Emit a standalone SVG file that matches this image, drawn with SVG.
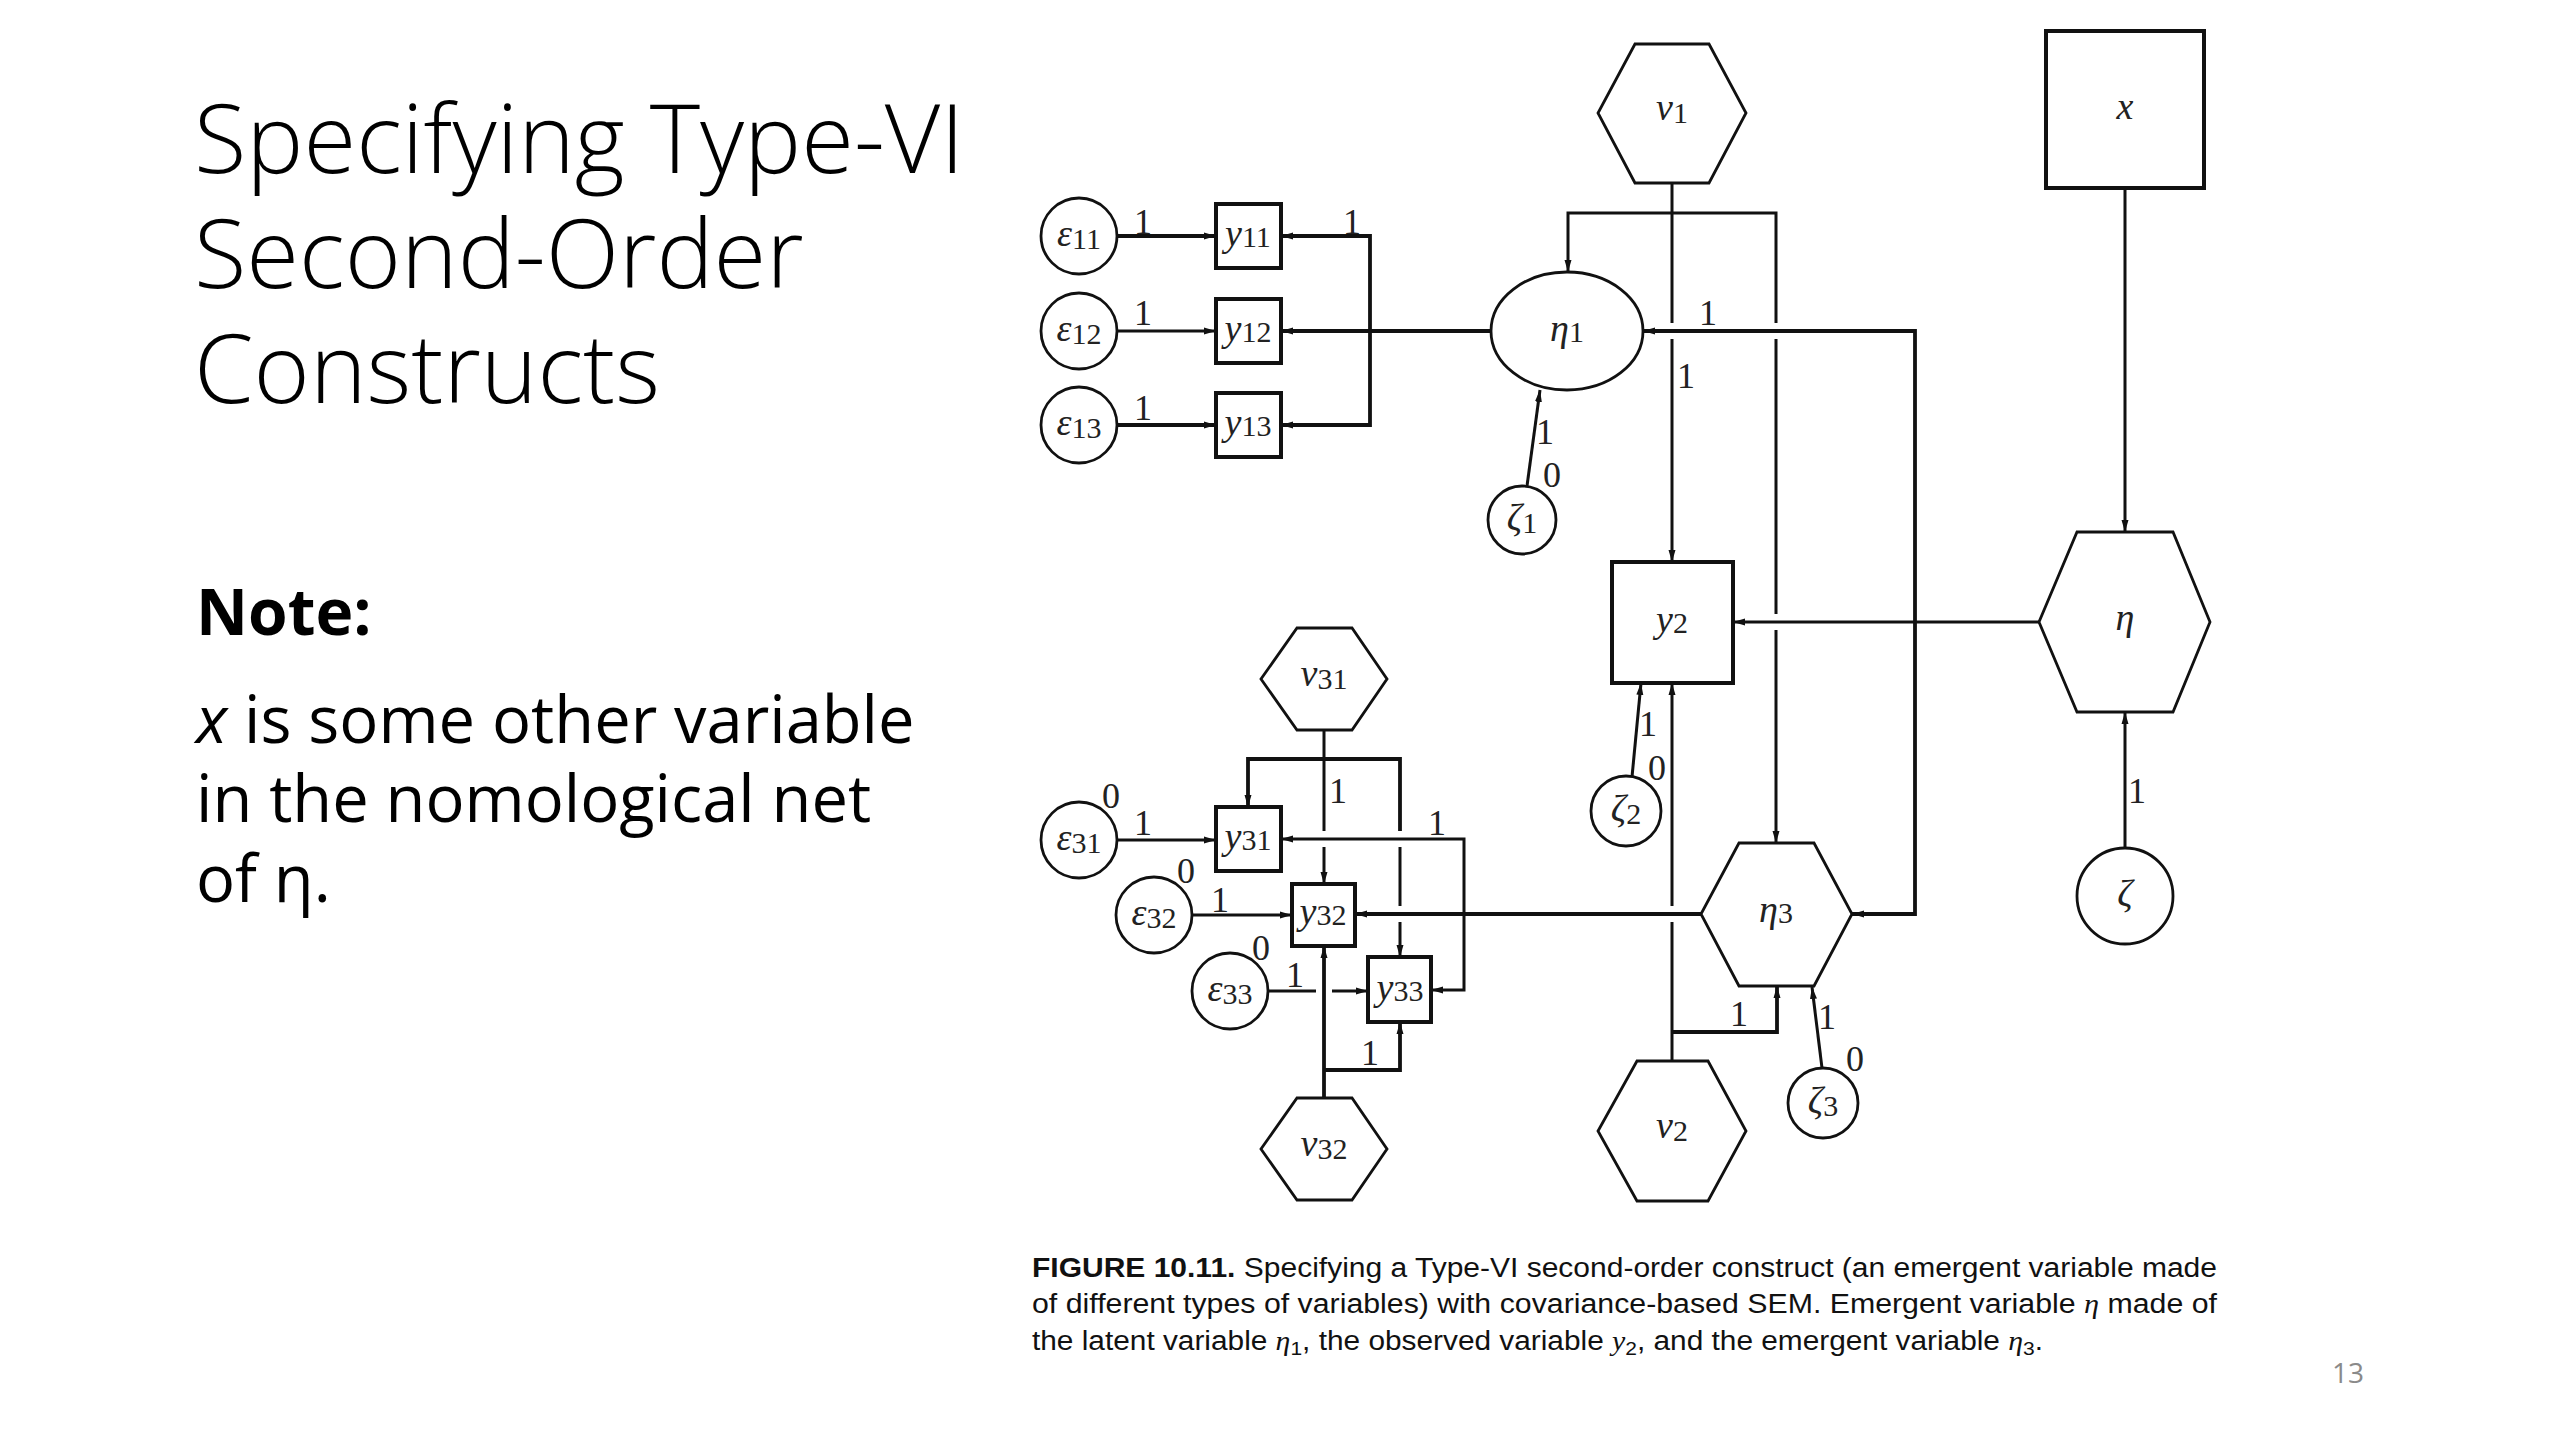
<svg xmlns="http://www.w3.org/2000/svg" width="2560" height="1440" viewBox="0 0 2560 1440">
<style>
.bg{fill:#fff}
.nd{fill:#fff;stroke:#111;stroke-width:2.8}
.bx{fill:#fff;stroke:#111;stroke-width:4}
.ln{fill:none;stroke:#111;stroke-width:3}
.tk{fill:none;stroke:#111;stroke-width:3.8}
.ar{marker-end:url(#ah)}
.as{marker-start:url(#ah)}
.m{font-family:"Liberation Serif","DejaVu Serif",serif;font-size:38px;fill:#222;text-anchor:middle}
.i{font-style:italic}
.s{font-size:30px}
.el{font-family:"Liberation Serif","DejaVu Serif",serif;font-size:36px;fill:#222;text-anchor:middle}
.ttl{font-family:"Open Sans","Noto Sans",sans-serif;font-weight:300;font-size:96px;fill:#000}
.note{font-family:"Open Sans","Noto Sans",sans-serif;font-weight:700;font-size:64px;fill:#000}
.body{font-family:"Open Sans","Noto Sans",sans-serif;font-size:65px;fill:#000}
.cap{font-family:"Liberation Sans",Arial,sans-serif;font-size:27px;fill:#111}
.pg{font-family:"Open Sans","Noto Sans",sans-serif;font-size:28px;fill:#8a8a8a}
</style>
<defs>
<marker id="ah" viewBox="0 0 12 8" refX="12" refY="4" markerWidth="12" markerHeight="8" markerUnits="userSpaceOnUse" orient="auto-start-reverse">
<path d="M0,0.5 L12,4 L0,7.5 z" fill="#111"/>
</marker>
</defs>
<rect class="bg" x="0" y="0" width="2560" height="1440"/>

<g id="slide-text">
<text class="ttl" x="194" y="173">Specifying Type-VI</text>
<text class="ttl" x="194" y="288">Second-Order</text>
<text class="ttl" x="194" y="403">Constructs</text>
<text class="note" x="196" y="635">Note:</text>
<text class="body" x="196" y="743"><tspan font-style="italic">x</tspan> is some other variable</text>
<text class="body" x="196" y="822">in the nomological net</text>
<text class="body" x="196" y="902">of η.</text>
</g>

<g id="connectors">
<line class="tk ar" x1="1117" y1="236" x2="1216" y2="236"/>
<line class="ln ar" x1="1117" y1="331" x2="1216" y2="331"/>
<line class="tk ar" x1="1117" y1="425" x2="1216" y2="425"/>
<line class="tk ar" x1="1491" y1="331" x2="1281" y2="331"/>
<path class="tk as" d="M1281,236 H1370 V425 H1281" marker-end="url(#ah)"/>
<line class="ln ar" x1="1527" y1="486" x2="1540" y2="390"/>
<line class="ln" x1="1672" y1="183" x2="1672" y2="323"/>
<line class="ln ar" x1="1672" y1="339" x2="1672" y2="562"/>
<path class="ln as" d="M1568,272 V213 H1776 V323"/>
<line class="ln" x1="1776" y1="339" x2="1776" y2="614"/>
<line class="ln ar" x1="1776" y1="630" x2="1776" y2="843"/>
<path class="tk as" d="M1643,331 H1915 V914 H1852" marker-end="url(#ah)"/>
<line class="ln ar" x1="2039" y1="622" x2="1733" y2="622"/>
<line class="ln ar" x1="2125" y1="188" x2="2125" y2="532"/>
<line class="ln ar" x1="2125" y1="848" x2="2125" y2="712"/>
<line class="ln ar" x1="1632" y1="777" x2="1641" y2="683"/>
<line class="ln" x1="1672" y1="1061" x2="1672" y2="922"/>
<line class="ln ar" x1="1672" y1="906" x2="1672" y2="683"/>
<path class="tk ar" d="M1672,1032 H1777 V986"/>
<line class="ln ar" x1="1822" y1="1068" x2="1812" y2="987"/>
<line class="tk ar" x1="1701" y1="914" x2="1355" y2="914"/>
<line class="ln" x1="1324" y1="730" x2="1324" y2="831"/>
<line class="ln ar" x1="1324" y1="847" x2="1324" y2="884"/>
<path class="tk as" d="M1248,807 V759 H1400 V831"/>
<line class="ln" x1="1400" y1="847" x2="1400" y2="906"/>
<line class="ln ar" x1="1400" y1="922" x2="1400" y2="957"/>
<path class="ln as" d="M1281,839 H1464 V990 H1431" marker-end="url(#ah)"/>
<line class="ln ar" x1="1117" y1="840" x2="1216" y2="840"/>
<line class="ln ar" x1="1192" y1="915" x2="1292" y2="915"/>
<line class="ln" x1="1268" y1="991" x2="1316" y2="991"/>
<line class="ln ar" x1="1332" y1="991" x2="1368" y2="991"/>
<line class="tk ar" x1="1324" y1="1098" x2="1324" y2="946"/>
<path class="tk ar" d="M1324,1070 H1400 V1022"/>
</g>

<g id="edge-labels">
<text class="el" x="1143" y="234">1</text>
<text class="el" x="1143" y="325">1</text>
<text class="el" x="1143" y="420">1</text>
<text class="el" x="1352" y="234">1</text>
<text class="el" x="1708" y="325">1</text>
<text class="el" x="1686" y="388">1</text>
<text class="el" x="1545" y="444">1</text>
<text class="el" x="1552" y="487">0</text>
<text class="el" x="1648" y="736">1</text>
<text class="el" x="1657" y="780">0</text>
<text class="el" x="1739" y="1026">1</text>
<text class="el" x="1827" y="1029">1</text>
<text class="el" x="1855" y="1071">0</text>
<text class="el" x="2137" y="803">1</text>
<text class="el" x="1338" y="803">1</text>
<text class="el" x="1437" y="835">1</text>
<text class="el" x="1111" y="808">0</text>
<text class="el" x="1143" y="835">1</text>
<text class="el" x="1186" y="883">0</text>
<text class="el" x="1220" y="912">1</text>
<text class="el" x="1261" y="960">0</text>
<text class="el" x="1295" y="987">1</text>
<text class="el" x="1370" y="1065">1</text>
</g>

<g id="n-eps11"><circle class="nd" cx="1079" cy="236" r="38"/><text class="m" x="1079" y="246"><tspan class="i">ε</tspan><tspan class="s" dy="3">11</tspan></text></g>
<g id="n-eps12"><circle class="nd" cx="1079" cy="331" r="38"/><text class="m" x="1079" y="341"><tspan class="i">ε</tspan><tspan class="s" dy="3">12</tspan></text></g>
<g id="n-eps13"><circle class="nd" cx="1079" cy="425" r="38"/><text class="m" x="1079" y="435"><tspan class="i">ε</tspan><tspan class="s" dy="3">13</tspan></text></g>
<g id="n-y11"><rect class="bx" x="1216" y="204" width="65" height="64"/><text class="m" x="1248" y="246"><tspan class="i">y</tspan><tspan class="s" dy="1">11</tspan></text></g>
<g id="n-y12"><rect class="bx" x="1216" y="299" width="65" height="64"/><text class="m" x="1248" y="341"><tspan class="i">y</tspan><tspan class="s" dy="1">12</tspan></text></g>
<g id="n-y13"><rect class="bx" x="1216" y="393" width="65" height="64"/><text class="m" x="1248" y="435"><tspan class="i">y</tspan><tspan class="s" dy="1">13</tspan></text></g>
<g id="n-eta1"><ellipse class="nd" cx="1567" cy="331" rx="76" ry="59"/><text class="m" x="1567" y="341"><tspan class="i">η</tspan><tspan class="s" dy="1">1</tspan></text></g>
<g id="n-zeta1"><circle class="nd" cx="1522" cy="520" r="34"/><text class="m" x="1522" y="530"><tspan class="i">ζ</tspan><tspan class="s" dy="3">1</tspan></text></g>
<g id="n-nu1"><polygon class="nd" points="1635,44 1709,44 1746,113 1709,183 1635,183 1598,113"/><text class="m" x="1672" y="120"><tspan class="i">ν</tspan><tspan class="s" dy="3">1</tspan></text></g>
<g id="n-x"><rect class="bx" x="2046" y="31" width="158" height="157"/><text class="m" x="2125" y="119"><tspan class="i">x</tspan></text></g>
<g id="n-y2"><rect class="bx" x="1612" y="562" width="121" height="121"/><text class="m" x="1672" y="632"><tspan class="i">y</tspan><tspan class="s" dy="1">2</tspan></text></g>
<g id="n-eta"><polygon class="nd" points="2077,532 2173,532 2210,622 2173,712 2077,712 2039,622"/><text class="m" x="2125" y="630"><tspan class="i">η</tspan></text></g>
<g id="n-zeta"><circle class="nd" cx="2125" cy="896" r="48"/><text class="m" x="2125" y="906"><tspan class="i">ζ</tspan></text></g>
<g id="n-zeta2"><circle class="nd" cx="1626" cy="811" r="35"/><text class="m" x="1626" y="821"><tspan class="i">ζ</tspan><tspan class="s" dy="3">2</tspan></text></g>
<g id="n-eta3"><polygon class="nd" points="1739,843 1814,843 1852,914 1814,986 1739,986 1701,914"/><text class="m" x="1776" y="922"><tspan class="i">η</tspan><tspan class="s" dy="1">3</tspan></text></g>
<g id="n-zeta3"><circle class="nd" cx="1823" cy="1103" r="35"/><text class="m" x="1823" y="1113"><tspan class="i">ζ</tspan><tspan class="s" dy="3">3</tspan></text></g>
<g id="n-nu2"><polygon class="nd" points="1637,1061 1708,1061 1746,1131 1708,1201 1637,1201 1598,1131"/><text class="m" x="1672" y="1138"><tspan class="i">ν</tspan><tspan class="s" dy="3">2</tspan></text></g>
<g id="n-nu31"><polygon class="nd" points="1297,628 1352,628 1387,679 1352,730 1297,730 1261,679"/><text class="m" x="1324" y="686"><tspan class="i">ν</tspan><tspan class="s" dy="3">31</tspan></text></g>
<g id="n-nu32"><polygon class="nd" points="1297,1098 1352,1098 1387,1149 1352,1200 1297,1200 1261,1149"/><text class="m" x="1324" y="1156"><tspan class="i">ν</tspan><tspan class="s" dy="3">32</tspan></text></g>
<g id="n-y31"><rect class="bx" x="1216" y="807" width="65" height="64"/><text class="m" x="1248" y="849"><tspan class="i">y</tspan><tspan class="s" dy="1">31</tspan></text></g>
<g id="n-y32"><rect class="bx" x="1292" y="884" width="63" height="62"/><text class="m" x="1323" y="924"><tspan class="i">y</tspan><tspan class="s" dy="1">32</tspan></text></g>
<g id="n-y33"><rect class="bx" x="1368" y="957" width="63" height="65"/><text class="m" x="1400" y="1000"><tspan class="i">y</tspan><tspan class="s" dy="1">33</tspan></text></g>
<g id="n-eps31"><circle class="nd" cx="1079" cy="840" r="38"/><text class="m" x="1079" y="850"><tspan class="i">ε</tspan><tspan class="s" dy="3">31</tspan></text></g>
<g id="n-eps32"><circle class="nd" cx="1154" cy="915" r="38"/><text class="m" x="1154" y="925"><tspan class="i">ε</tspan><tspan class="s" dy="3">32</tspan></text></g>
<g id="n-eps33"><circle class="nd" cx="1230" cy="991" r="38"/><text class="m" x="1230" y="1001"><tspan class="i">ε</tspan><tspan class="s" dy="3">33</tspan></text></g>

<g id="caption">
<text class="cap" x="1032" y="1277" textLength="1185" lengthAdjust="spacingAndGlyphs"><tspan font-weight="bold">FIGURE 10.11.</tspan> Specifying a Type-VI second-order construct (an emergent variable made</text>
<text class="cap" x="1032" y="1313" textLength="1185" lengthAdjust="spacingAndGlyphs">of different types of variables) with covariance-based SEM. Emergent variable <tspan font-family="Liberation Serif,serif" font-style="italic">η</tspan> made of</text>
<text class="cap" x="1032" y="1350" textLength="1011" lengthAdjust="spacingAndGlyphs">the latent variable <tspan font-family="Liberation Serif,serif" font-style="italic">η</tspan><tspan font-size="19" dy="5">1</tspan><tspan dy="-5">, the observed variable </tspan><tspan font-family="Liberation Serif,serif" font-style="italic">y</tspan><tspan font-size="19" dy="5">2</tspan><tspan dy="-5">, and the emergent variable </tspan><tspan font-family="Liberation Serif,serif" font-style="italic">η</tspan><tspan font-size="19" dy="5">3</tspan><tspan dy="-5">.</tspan></text>
</g>

<text class="pg" x="2348" y="1383" text-anchor="middle">13</text>
</svg>
